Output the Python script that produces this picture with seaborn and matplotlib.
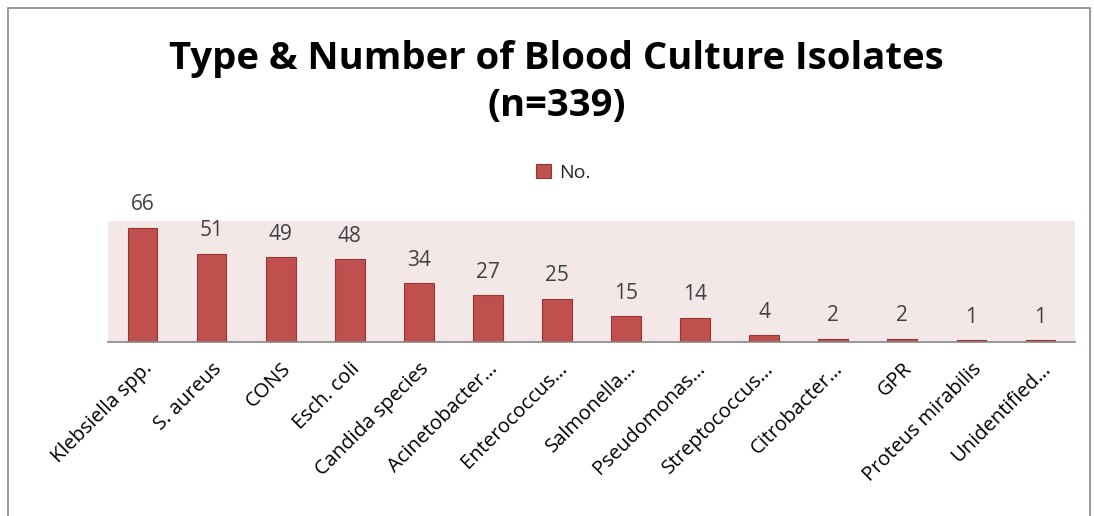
import pandas as pd
import seaborn as sns
import matplotlib.pyplot as plt
from matplotlib.patches import Rectangle

# 数据
organisms = ['Klebsiella spp.', 'S. aureus', 'CONS', 'Esch. coli', 'Candida species',
             'Acinetobacter…', 'Enterococcus…', 'Salmonella…', 'Pseudomonas…',
             'Streptococcus…', 'Citrobacter…', 'GPR', 'Proteus mirabilis', 'Unidentified…']
counts = [66, 51, 49, 48, 34, 27, 25, 15, 14, 4, 2, 2, 1, 1]

df = pd.DataFrame({'Organism': organisms, 'No.': counts})

sns.set_style("white")
plt.rcParams['font.family'] = ['Open Sans', 'DejaVu Sans']

fig = plt.figure(figsize=(10.94, 5.16), dpi=100)
ax = fig.add_axes([0.0987, 0.3372, 0.8839, 0.2345])

sns.barplot(x='Organism', y='No.', data=df, ax=ax, color='#C0504D', saturation=1,
            edgecolor='#943634', linewidth=0.8, width=0.43, label='No.')
ax.set_facecolor('#F3E7E7')
ax.set_ylim(0, 70)
ax.set_xlim(-0.5, len(organisms) - 0.5)
ax.set_yticks([])
ax.set_xlabel('')
ax.set_ylabel('')
for s in ['top', 'right', 'left']:
    ax.spines[s].set_visible(False)
ax.spines['bottom'].set_color('#888888')
ax.spines['bottom'].set_linewidth(1.2)

for c in ax.containers:
    ax.bar_label(c, padding=9, fontsize=15, color='#404040')

ax.set_xticks(range(len(organisms)))
ax.set_xticklabels(organisms, rotation=45, ha='right', rotation_mode='anchor',
                   fontsize=14.5, color='black')
ax.tick_params(axis='x', length=0, pad=12)

fig.text(0.509, 0.84, 'Type & Number of Blood Culture Isolates\n(n=339)',
         ha='center', va='center', fontsize=27.5, fontweight='bold',
         linespacing=1.3, color='black')

leg = ax.legend(frameon=False, fontsize=14, handlelength=0.75, handleheight=0.75,
                handletextpad=0.4, loc='center')
leg.set_bbox_to_anchor((0.515, 0.665), transform=fig.transFigure)

fig.patches.append(Rectangle((8 / 1094, -0.1), 1082 / 1094, 1.1 - 8 / 516,
                             transform=fig.transFigure, fill=False,
                             edgecolor='#888888', linewidth=1.2))

plt.savefig('out.png')
